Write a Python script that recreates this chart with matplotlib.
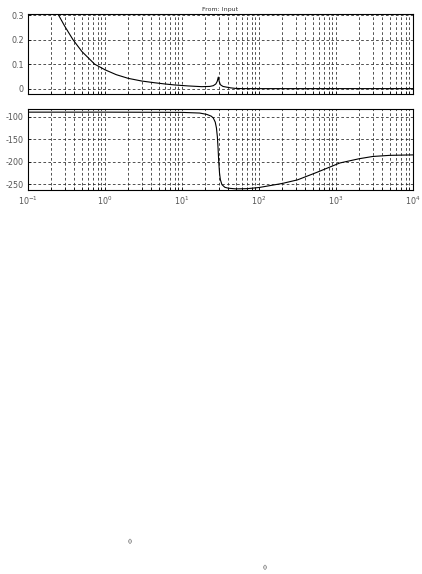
import matplotlib
matplotlib.use("Agg")
import matplotlib.pyplot as plt
from matplotlib.ticker import LogLocator, FixedLocator, NullFormatter

# Magnitude curve
mag_freq = [0.2, 0.25, 0.3, 0.384, 0.5, 0.734, 1.0, 1.4, 2.0, 3.0, 4.4, 6.0, 8.0,
            12.0, 18.0, 23.0, 25.5, 27.5, 28.7, 29.6, 30.4, 31.5, 34.0, 38.0, 43.0,
            49.0, 60.0, 100.0, 1000.0, 10000.0]
mag_vals = [0.375, 0.30, 0.255, 0.20, 0.152, 0.10, 0.077, 0.057, 0.042, 0.031, 0.024,
            0.019, 0.015, 0.011, 0.008, 0.009, 0.012, 0.019, 0.030, 0.047, 0.030,
            0.016, 0.009, 0.006, 0.003, 0.001, 0.0, 0.0, 0.0, 0.0]

# Phase curve
ph_freq = [0.1, 1.0, 10.0, 17.0, 21.0, 24.0, 25.5, 27.0, 28.0, 28.8, 29.4, 30.0,
           30.7, 31.5, 33.0, 36.0, 40.0, 50.0, 70.0, 100.0, 126.0, 200.0, 316.0,
           560.0, 1120.0, 2000.0, 3000.0, 5000.0, 10000.0]
ph_vals = [-90.0, -90.0, -90.5, -92.0, -95.0, -99.0, -103.0, -112.0, -125.0, -145.0,
           -170.0, -200.0, -225.0, -240.0, -251.0, -257.0, -259.0, -260.5, -260.0,
           -257.5, -254.5, -248.5, -240.5, -224.0, -203.0, -193.5, -188.5, -186.0,
           -185.0]

mag_ticks = [0, 0.1, 0.2, 0.3]
mag_tick_labels = ["0", "0.1", "0.2", "0.3"]
ph_ticks = [-250, -200, -150, -100]
ph_tick_labels = ["-250", "-200", "-150", "-100"]
x_ticks = [0.1, 1, 10, 100, 1000, 10000]
x_tick_labels = [r"$10^{-1}$", r"$10^{0}$", r"$10^{1}$", r"$10^{2}$", r"$10^{3}$", r"$10^{4}$"]
title_text = "From: Input"

W, H = 422, 574
fig = plt.figure(figsize=(W / 100, H / 100), dpi=100)
fig.patch.set_facecolor("white")

left = 28 / W
width = (413 - 28) / W
ax1 = fig.add_axes([left, 1 - 94 / H, width, 80 / H])
ax2 = fig.add_axes([left, 1 - 190 / H, width, 81 / H])

label_color = "#555555"
fs = 5.8

for ax in (ax1, ax2):
    ax.set_xscale("log")
    ax.set_xlim(0.1, 10000)
    ax.xaxis.set_major_locator(FixedLocator(x_ticks))
    ax.xaxis.set_minor_locator(LogLocator(base=10, subs=range(2, 10), numticks=20))
    ax.xaxis.set_minor_formatter(NullFormatter())
    ax.grid(True, which="major", axis="both", color="#222222", linestyle=(0, (3.5, 3)), linewidth=0.55)
    ax.grid(True, which="minor", axis="x", color="#222222", linestyle=(0, (3.5, 3)), linewidth=0.55)
    ax.tick_params(which="both", direction="in", length=2, width=0.5, colors="black",
                   labelcolor=label_color, labelsize=fs, pad=3)
    for s in ax.spines.values():
        s.set_linewidth(0.8)
        s.set_color("black")

ax1.plot(mag_freq, mag_vals, color="black", linewidth=0.8)
ax1.set_ylim(-0.022, 0.305)
ax1.set_yticks(mag_ticks)
ax1.set_yticklabels(mag_tick_labels)
ax1.set_xticklabels([])
ax1.set_title(title_text, fontsize=4.5, color="#333333", pad=2)

ax2.plot(ph_freq, ph_vals, color="black", linewidth=0.8)
ax2.set_ylim(-263, -83)
ax2.set_yticks(ph_ticks)
ax2.set_yticklabels(ph_tick_labels)
ax2.set_xticklabels(x_tick_labels)

fig.text(130 / W, 1 - 542 / H, "()", fontsize=4.5, family="DejaVu Serif",
         ha="center", va="center", color="#333333")
fig.text(265 / W, 1 - 568 / H, "()", fontsize=4.5, family="DejaVu Serif",
         ha="center", va="center", color="#333333")

fig.savefig("out.png", dpi=100, facecolor="white")
